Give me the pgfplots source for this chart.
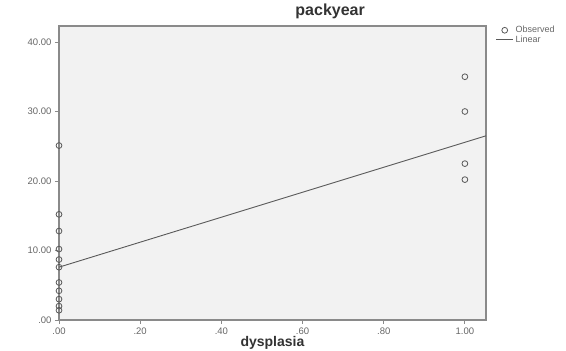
\documentclass[border=0pt]{standalone}
\usepackage{pgfplots}
\pgfplotsset{compat=1.18}
\usepackage{fontspec}
\setmainfont{Liberation Sans}
\definecolor{axgray}{HTML}{8A8A8A}
\definecolor{bg}{HTML}{F2F2F2}
\definecolor{txt}{HTML}{666666}
\begin{document}
\begin{tikzpicture}[x=1pt,y=1pt]
\path[use as bounding box] (-59,-31) rectangle (507,320);
\begin{axis}[
  scale only axis, width=427pt, height=294pt,
  at={(0,0)}, anchor=south west,
  xmin=0, xmax=1.052, ymin=0, ymax=42.3,
  axis background/.style={fill=bg},
  axis line style={axgray, line width=1.5pt},
  xtick pos=left, ytick pos=left,
  xtick={0,0.2,0.4,0.6,0.8,1},
  xticklabels={.00,.20,.40,.60,.80,1.00},
  ytick={0,10,20,30,40},
  yticklabels={.00,10.00,20.00,30.00,40.00},
  tick align=outside, major tick length=4pt,
  tick style={axgray, line width=0.8pt},
  tick label style={font=\fontsize{9.5}{10}\selectfont, text=txt},
  title={\textbf{packyear}},
  title style={font=\fontsize{16}{17}\selectfont, text=black!80,
    at={(0.635,1)}, anchor=base, yshift=4pt},
  xlabel={\textbf{dysplasia}},
  xlabel style={font=\fontsize{14}{15}\selectfont, text=black!80,
    at={(axis description cs:0.5,0)}, anchor=base, yshift=-26.5pt},
  clip=false,
  legend style={at={(1.02,1.01)}, anchor=north west, draw=none, fill=none,
    font=\fontsize{9}{9.5}\selectfont, text=txt, row sep=-2.5pt,
    inner sep=1pt},
  legend cell align=left,
]
\addplot+[only marks, mark=o, mark size=2.9pt, mark options={draw=black!65, line width=0.8pt}, draw=none]
coordinates {
(0,25.1) (0,15.2) (0,12.8) (0,10.2) (0,8.7) (0,7.6) (0,5.4) (0,4.2) (0,3.0) (0,2.0) (0,1.4)
(1,35) (1,30) (1,22.5) (1,20.2)
};
\addlegendentry{Observed}
\addplot[black!65, line width=0.9pt] coordinates {(0,7.6) (1.052,26.5)};
\addlegendentry{Linear}
\end{axis}
\end{tikzpicture}
\end{document}
